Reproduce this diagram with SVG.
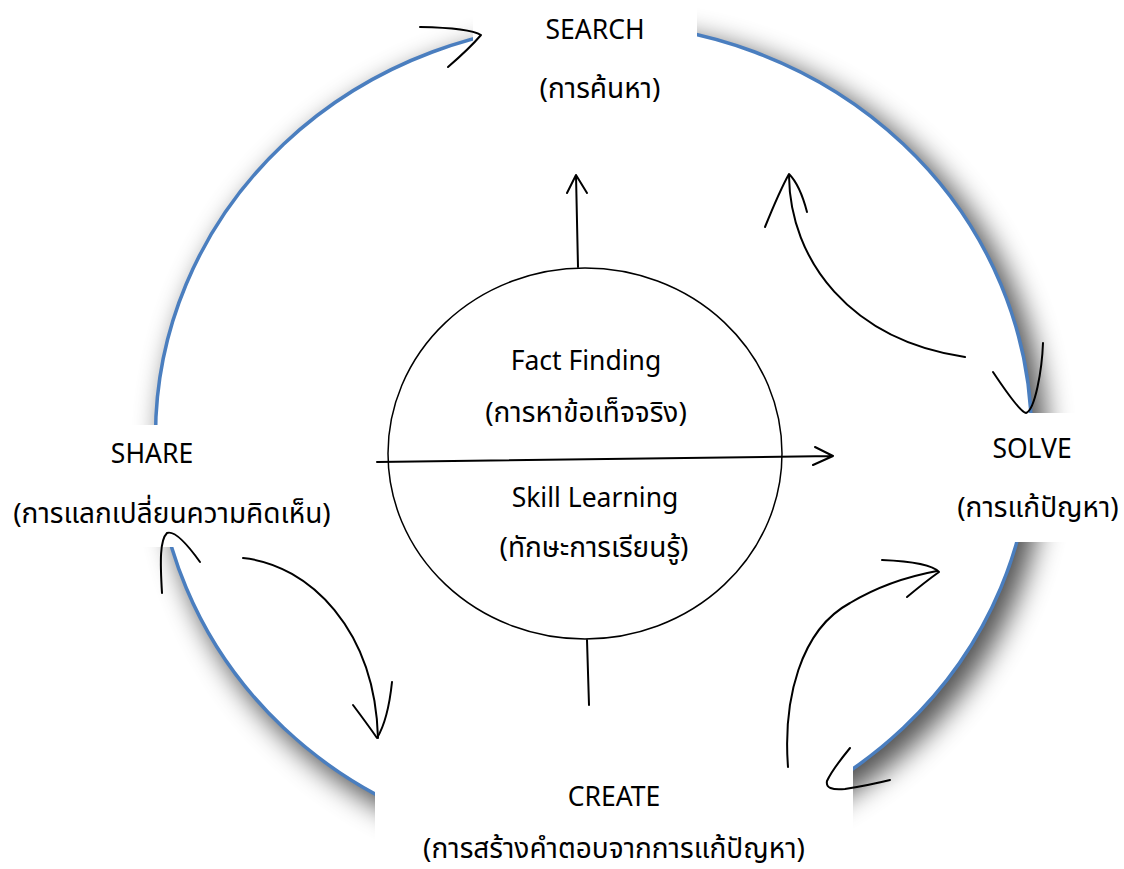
<svg xmlns="http://www.w3.org/2000/svg" width="1124" height="869" viewBox="0 0 1124 869">
<style>
  text { font-family: "Noto Sans", "Noto Sans Thai", "Leelawadee UI", "DejaVu Sans", sans-serif; font-size: 26.5px; fill: #000; text-anchor: middle; }
  text.th { font-size: 28px; }
  .ink { fill: none; stroke: #000; stroke-width: 2; stroke-linecap: round; stroke-linejoin: round; }
  .box { fill: #fff; stroke: none; }
</style>
<defs>
  <filter id="shadow" x="-20%" y="-20%" width="140%" height="140%">
    <feGaussianBlur stdDeviation="14"/>
  </filter>
</defs>
<rect width="1124" height="869" fill="#fff"/>
<g id="ring">
  <ellipse cx="604" cy="447" rx="442" ry="417" fill="#000" opacity="0.68" filter="url(#shadow)"/>
  <ellipse cx="593.5" cy="436" rx="438" ry="413" fill="#fff" stroke="#4a7ebf" stroke-width="3.5"/>
</g>
<g id="search">
  <rect class="box" x="473" y="0" width="224" height="130"/>
  <text x="595" y="39">SEARCH</text>
  <text class="th" x="600" y="98">(การค้นหา)</text>
</g>
<g id="solve">
  <rect class="box" x="945" y="413" width="179" height="129"/>
  <text x="1032" y="458">SOLVE</text>
  <text class="th" x="1038" y="517">(การแก้ปัญหา)</text>
</g>
<g id="share">
  <rect class="box" x="0" y="425" width="340" height="122"/>
  <text x="152" y="463">SHARE</text>
  <text class="th" x="172" y="523">(การแลกเปลี่ยนความคิดเห็น)</text>
</g>
<g id="create">
  <rect class="box" x="375" y="765" width="478" height="104"/>
  <text x="614" y="806">CREATE</text>
  <text class="th" x="614" y="858">(การสร้างคำตอบจากการแก้ปัญหา)</text>
</g>
<g id="center">
  <ellipse cx="585" cy="453.5" rx="197" ry="185.5" fill="none" stroke="#000" stroke-width="1.5"/>
  <text x="586" y="370">Fact Finding</text>
  <text class="th" x="586" y="422">(การหาข้อเท็จจริง)</text>
  <text x="595" y="507">Skill Learning</text>
  <text class="th" x="594" y="557">(ทักษะการเรียนรู้)</text>
</g>
<g id="connectors">
  <path class="ink" d="M377,462 L833,456 M815,447 L833,456 L813,465" stroke-width="2.2"/>
  <path class="ink" d="M578,267 L576,175 M567,193 L576,175 L587,193" stroke-width="2.5"/>
  <path class="ink" d="M587,640 L589,705" stroke-width="2.2"/>
  <path class="ink" d="M420,27 Q470,28 481,35 Q470,48 448,67"/>
  <path class="ink" d="M965,357 C850,340 790,260 789,176"/>
  <path class="ink" d="M765,227 Q780,190 789,174 Q800,185 807,212"/>
  <path class="ink" d="M993,372 C1005,390 1020,412 1026,413 C1035,410 1042,370 1043,343"/>
  <path class="ink" d="M788,767 C783,700 800,630 850,603 C880,585 910,576 937,571"/>
  <path class="ink" d="M882,560 Q930,562 939,572 Q925,582 907,597"/>
  <path class="ink" d="M850,748 Q832,770 827,781 Q825,791 845,789 Q870,785 890,780"/>
  <path class="ink" d="M162,593 C160,560 160,540 167,533 C175,530 190,548 200,562"/>
  <path class="ink" d="M243,558 C310,565 375,630 378,738"/>
  <path class="ink" d="M353,705 Q368,725 377,738 Q388,720 392,682"/>
</g>
</svg>
